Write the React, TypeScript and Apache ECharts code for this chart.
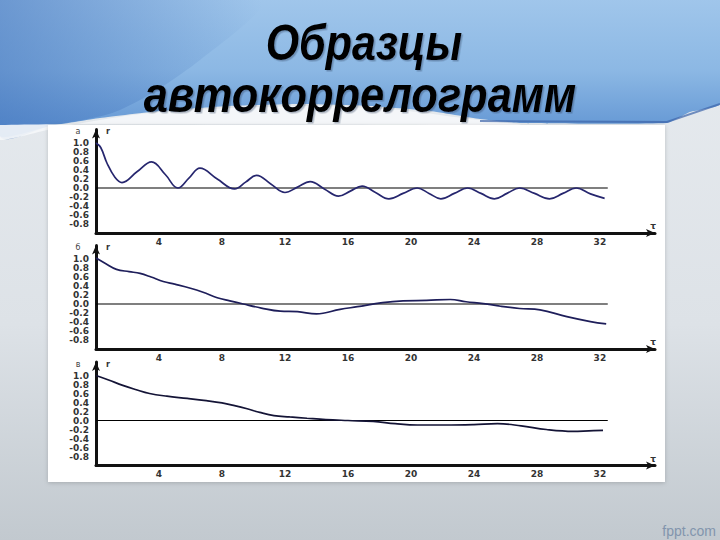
import React, { useEffect, useRef } from "react";
import * as echarts from "echarts";

// ---- Data (lag τ, autocorrelation r) ----
const LAGS_A = [0, 0.3, 0.7, 1.2, 1.65, 2.6, 3.53, 4.4, 5.2, 5.9, 6.6, 7.7, 8.8, 9.5, 10.2, 11.1, 12.0, 12.8, 13.6, 14.5, 15.4, 16.15, 16.9, 17.75, 18.6, 19.5, 20.4, 21.15, 21.9, 22.75, 23.6, 24.45, 25.3, 26.1, 26.9, 27.85, 28.8, 29.65, 30.5, 31.4, 32.3];
const R_A = [1.0, 0.9, 0.55, 0.24, 0.12, 0.36, 0.58, 0.3, 0.0, 0.22, 0.44, 0.2, -0.02, 0.13, 0.28, 0.09, -0.1, 0.02, 0.14, -0.02, -0.18, -0.07, 0.04, -0.1, -0.24, -0.12, 0.0, -0.12, -0.24, -0.12, 0.0, -0.12, -0.24, -0.12, 0.0, -0.12, -0.24, -0.12, 0.0, -0.13, -0.23];

const LAGS_B = [0, 0.6, 1.3, 2.1, 2.8, 3.5, 4.27, 5.0, 6.0, 6.8, 7.7, 8.5, 9.35, 10.5, 11.7, 12.8, 14.0, 15.5, 16.6, 18.2, 19.5, 21.0, 22.5, 23.5, 24.6, 25.7, 26.9, 28.2, 29.9, 31.4, 32.4];
const R_B = [1.02, 0.9, 0.77, 0.72, 0.68, 0.6, 0.5, 0.44, 0.35, 0.26, 0.14, 0.07, 0.0, -0.09, -0.16, -0.17, -0.22, -0.12, -0.06, 0.03, 0.07, 0.08, 0.1, 0.05, 0.01, -0.05, -0.1, -0.13, -0.28, -0.39, -0.44];

const LAGS_C = [0, 0.8, 1.7, 2.5, 3.4, 4.5, 5.8, 7.0, 8.0, 8.8, 9.6, 10.4, 11.3, 12.3, 13.4, 14.6, 16.0, 17.6, 19.0, 20.4, 22.2, 24.0, 25.5, 27.0, 28.6, 30.3, 31.3, 32.2];
const R_C = [1.0, 0.9, 0.78, 0.69, 0.6, 0.54, 0.49, 0.44, 0.39, 0.33, 0.26, 0.18, 0.11, 0.08, 0.05, 0.02, 0.0, -0.02, -0.07, -0.1, -0.1, -0.09, -0.07, -0.12, -0.2, -0.24, -0.23, -0.22];

const ZERO_LINE_LAGS = [0, 32.5];
const X_TICK_LABELS = [4, 8, 12, 16, 20, 24, 28, 32];
const Y_TICK_LABELS = [1.0, 0.8, 0.6, 0.4, 0.2, 0.0, -0.2, -0.4, -0.6, -0.8];
const PANEL_LETTERS = ["а", "б", "в"];
const TITLE_LINES = ["Образцы", "автокоррелограмм"];

const PANELS = [
  { lags: LAGS_A, r: R_A, color: "#26266e" },
  { lags: LAGS_B, r: R_B, color: "#1e1e5a" },
  { lags: LAGS_C, r: R_C, color: "#141436" },
];

const GRID_TOPS = [129.5, 245.5, 362];
const GRID_H = 103.5;
const GRID_LEFT = 96;
const GRID_W = 559;

export default function App() {
  const ref = useRef<HTMLDivElement>(null);

  useEffect(() => {
    if (!ref.current) return;
    const chart = echarts.init(ref.current, undefined, { renderer: "svg" });

    const labelFont = {
      fontSize: 9,
      fontWeight: "bold" as const,
      color: "#333333",
      fontFamily: "DejaVu Sans",
    };

    const grids = GRID_TOPS.map((top) => ({
      left: GRID_LEFT,
      top,
      width: GRID_W,
      height: GRID_H,
      containLabel: false,
    }));

    const xAxes = GRID_TOPS.map((_, i) => ({
      type: "value",
      gridIndex: i,
      min: 0,
      max: 35.5,
      interval: 4,
      axisLine: {
        show: true,
        onZero: false,
        symbol: ["none", "arrow"],
        symbolSize: [6, 9],
        lineStyle: { color: "#111", width: 3 },
      },
      axisTick: { show: false },
      splitLine: { show: false },
      axisLabel: {
        ...labelFont,
        margin: 4,
        showMaxLabel: false,
        formatter: (v: number) => (X_TICK_LABELS.includes(v) ? String(v) : ""),
      },
    }));

    const yAxes = GRID_TOPS.map((_, i) => ({
      type: "value",
      gridIndex: i,
      min: -1,
      max: 1.3,
      interval: 0.2,
      axisLine: {
        show: true,
        onZero: false,
        symbol: ["none", "arrow"],
        symbolSize: [6, 9],
        lineStyle: { color: "#111", width: 3 },
      },
      axisTick: { show: false },
      splitLine: { show: false },
      axisLabel: {
        ...labelFont,
        margin: 7,
        showMaxLabel: false,
        formatter: (v: number) => {
          const s = v.toFixed(1);
          const match = Y_TICK_LABELS.some((t) => t.toFixed(1) === s);
          return match ? (s === "-0.0" ? "0.0" : s) : "";
        },
      },
    }));

    const series: any[] = [];
    PANELS.forEach((p, i) => {
      series.push({
        type: "line",
        xAxisIndex: i,
        yAxisIndex: i,
        data: ZERO_LINE_LAGS.map((l) => [l, 0]),
        symbol: "none",
        lineStyle: { color: "#000", width: 1.2 },
        silent: true,
        z: 3,
      });
      series.push({
        type: "line",
        xAxisIndex: i,
        yAxisIndex: i,
        data: p.lags.map((l, k) => [l, p.r[k]]),
        smooth: 0.4,
        symbol: "none",
        lineStyle: { color: p.color, width: 1.7 },
        z: 4,
      });
    });

    const panelTexts: any[] = [];
    GRID_TOPS.forEach((top, i) => {
      const bottom = top + GRID_H;
      panelTexts.push({
        type: "text",
        x: 78,
        y: top + 2,
        style: { text: PANEL_LETTERS[i], fontSize: 8, fill: "#444", textAlign: "center", textVerticalAlign: "middle", fontFamily: "DejaVu Sans" },
        z: 20,
      });
      panelTexts.push({
        type: "text",
        x: 108,
        y: top + 2,
        style: { text: "r", fontSize: 8, fontWeight: "bold", fill: "#333", textAlign: "center", textVerticalAlign: "middle", fontFamily: "DejaVu Sans" },
        z: 20,
      });
      panelTexts.push({
        type: "text",
        x: 653,
        y: bottom - 7,
        style: { text: "τ", fontSize: 9, fontWeight: "bold", fill: "#333", textAlign: "center", textVerticalAlign: "middle", fontFamily: "DejaVu Sans" },
        z: 20,
      });
    });

    const titleStyle = {
      font: "italic bold 50px 'Liberation Sans', Arial, sans-serif",
      fill: "#050505",
      textAlign: "center",
      textVerticalAlign: "middle",
      textShadowColor: "rgba(40,60,90,0.35)",
      textShadowBlur: 1,
      textShadowOffsetX: 1.5,
      textShadowOffsetY: 1.5,
    };

    const option: any = {
      animation: false,
      backgroundColor: "#dfe4e9",
      grid: grids,
      xAxis: xAxes,
      yAxis: yAxes,
      series,
      graphic: [
        // slide background (grey)
        {
          type: "rect",
          shape: { x: 0, y: 0, width: 720, height: 540 },
          style: {
            fill: new echarts.graphic.LinearGradient(0, 0, 0, 1, [
              { offset: 0, color: "#e8ecf0" },
              { offset: 0.6, color: "#dde2e7" },
              { offset: 1, color: "#c2c9cf" },
            ]),
          },
          z: -30,
          silent: true,
        },
        // top blue band with white swoosh edge
        {
          type: "polygon",
          shape: {
            points: [
              [0, 0], [720, 0], [720, 104], [690, 112], [667, 123], [520, 123],
              [480, 119], [430, 111], [370, 106], [300, 104], [230, 106],
              [160, 111], [100, 118], [50, 126], [0, 136],
            ],
            smooth: 0.15,
          },
          style: {
            fill: new echarts.graphic.LinearGradient(0, 0, 0, 1, [
              { offset: 0, color: "#a3c8ec" },
              { offset: 0.55, color: "#8cb8e4" },
              { offset: 1, color: "#5f93d2" },
            ]),
          },
          z: -25,
          silent: true,
        },
        // darker left shading on the blue band
        {
          type: "polygon",
          shape: {
            points: [[0, 0], [260, 0], [200, 60], [120, 110], [50, 126], [0, 136]],
            smooth: 0.3,
          },
          style: {
            fill: new echarts.graphic.LinearGradient(0, 0, 1, 0, [
              { offset: 0, color: "rgba(60,110,185,0.55)" },
              { offset: 1, color: "rgba(60,110,185,0)" },
            ]),
          },
          z: -24,
          silent: true,
        },
        // white swoosh glow beneath the title
        {
          type: "polygon",
          shape: {
            points: [[0, 140], [60, 127], [140, 114], [230, 108], [320, 106], [400, 110], [470, 119], [520, 125], [0, 125]],
            smooth: 0.2,
          },
          style: { fill: "rgba(245,247,249,0.9)" },
          z: -23,
          silent: true,
        },
        // dark blue rim at right
        {
          type: "polyline",
          shape: { points: [[480, 121], [667, 122], [720, 104]] },
          style: { stroke: "rgba(60,100,170,0.7)", lineWidth: 2, fill: null },
          z: -22,
          silent: true,
        },
        // white picture area
        {
          type: "rect",
          shape: { x: 48, y: 125, width: 617, height: 357 },
          style: { fill: "#ffffff", shadowBlur: 4, shadowColor: "rgba(0,0,0,0.18)", shadowOffsetY: 1 },
          z: -20,
          silent: true,
        },
        // Title
        {
          type: "text",
          x: 364,
          y: 43,
          scaleX: 0.86,
          style: { ...titleStyle, text: TITLE_LINES[0] },
          z: 30,
        },
        {
          type: "text",
          x: 360,
          y: 95,
          scaleX: 0.87,
          style: { ...titleStyle, text: TITLE_LINES[1] },
          z: 30,
        },
        // watermark
        {
          type: "text",
          x: 716,
          y: 531,
          style: {
            text: "fppt.com",
            fontSize: 14,
            fontFamily: "'Liberation Sans', Arial, sans-serif",
            fill: "#8295ad",
            textAlign: "right",
            textVerticalAlign: "middle",
          },
          z: 30,
        },
        ...panelTexts,
      ],
    };

    chart.setOption(option);
    return () => chart.dispose();
  }, []);

  return (
    <div
      ref={ref}
      style={{ position: "fixed", left: 0, top: 0, width: 720, height: 540 }}
    />
  );
}
